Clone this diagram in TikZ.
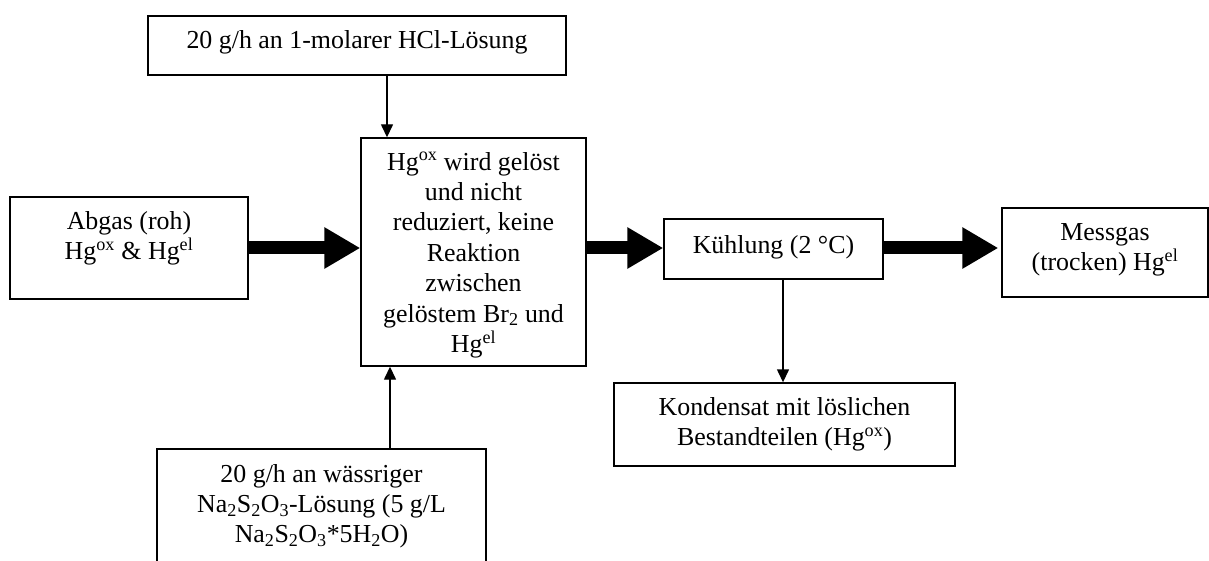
\documentclass[tikz,border=0pt]{standalone}
\usepackage{fontspec}
\setmainfont{Liberation Serif}
\usetikzlibrary{arrows.meta,calc}
\newcommand{\firststrut}{\rule{0pt}{24pt}}
\begin{document}
\begin{tikzpicture}[x=1pt,y=-1pt,
  box/.style={draw,line width=1.4pt,inner sep=0pt,rectangle},
  txt/.style={inner sep=0pt,anchor=north,align=center,font=\fontsize{25.9}{30.4}\selectfont},
  thinarrow/.style={line width=1.4pt,-{Triangle[length=13pt,width=12pt]}},
  thickarrow/.style={line width=13pt,-{Triangle[length=36pt,width=39pt]}}]
\useasboundingbox (0,0) rectangle (1209,561);
\clip (0,0) rectangle (1209,561);
% boxes
\node[box,minimum width=418pt,minimum height=59pt] (hcl) at (357,45.5) {};
\node[box,minimum width=238pt,minimum height=102pt] (abgas) at (129,248) {};
\node[box,minimum width=225pt,minimum height=228pt] (main) at (473.5,252) {};
\node[box,minimum width=219pt,minimum height=60pt] (kuehl) at (773.5,249) {};
\node[box,minimum width=206pt,minimum height=89pt] (mess) at (1105,252.5) {};
\node[box,minimum width=341pt,minimum height=83pt] (kond) at (784.5,424.5) {};
\node[box,minimum width=329pt,minimum height=131pt] (na) at (321.5,514.5) {};
% texts
\node[txt] (thcl) at ($(hcl.north)+(0,9)$) {\firststrut 20 g/h an 1-molarer HCl-Lösung};
\node[txt] (tabgas) at ($(abgas.north)+(0,9)$) {\firststrut Abgas (roh)\\ Hg\textsuperscript{ox} \& Hg\textsuperscript{el}};
\node[txt] (tmain) at ($(main.north)+(0,8.5)$) {\firststrut Hg\textsuperscript{ox} wird gelöst\\ und nicht\\ reduziert, keine\\ Reaktion\\ zwischen\\ gelöstem Br\textsubscript{2} und\\ Hg\textsuperscript{el}};
\node[txt] (tkuehl) at ($(kuehl.north)+(0,11)$) {\firststrut Kühlung (2 °C)};
\node[txt] (tmess) at ($(mess.north)+(0,9)$) {\firststrut Messgas\\ (trocken) Hg\textsuperscript{el}};
\node[txt] (tkond) at ($(kond.north)+(0,9)$) {\firststrut Kondensat mit löslichen\\ Bestandteilen (Hg\textsuperscript{ox})};
\node[txt] (tna) at ($(na.north)+(0,9.5)$) {\firststrut 20 g/h an wässriger\\ Na\textsubscript{2}S\textsubscript{2}O\textsubscript{3}-Lösung (5 g/L\\ Na\textsubscript{2}S\textsubscript{2}O\textsubscript{3}*5H\textsubscript{2}O)};
% connector positions
\coordinate (c1) at (387,0);
\coordinate (c2) at (783,0);
\coordinate (c3) at (390,0);
\coordinate (cy) at (0,248);
% thin arrows
\draw[thinarrow] (hcl.south -| c1) -- (main.north -| c1);
\draw[thinarrow] (kuehl.south -| c2) -- (kond.north -| c2);
\draw[thinarrow] (na.north -| c3) -- (main.south -| c3);
% thick arrows
\draw[thickarrow] (abgas.east |- cy) -- (main.west |- cy);
\draw[thickarrow] (main.east |- cy) -- (kuehl.west |- cy);
\draw[thickarrow] (kuehl.east |- cy) -- ([xshift=-3pt]mess.west |- cy);
\end{tikzpicture}
\end{document}
